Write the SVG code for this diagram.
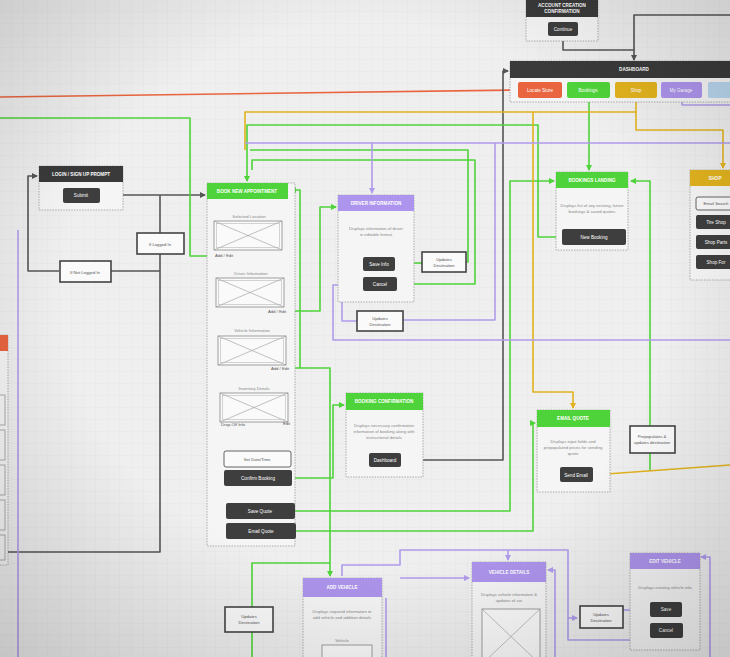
<svg xmlns="http://www.w3.org/2000/svg" width="730" height="657" viewBox="0 0 730 657">
<defs>
<pattern id="grid" width="12" height="12" patternUnits="userSpaceOnUse">
<rect width="12" height="12" fill="#efefef"/>
<path d="M12 0V12H0" fill="none" stroke="#e0e0e0" stroke-width="0.6"/>
</pattern>
<radialGradient id="vig" cx="50%" cy="45%" r="75%">
<stop offset="0.55" stop-color="#000" stop-opacity="0"/>
<stop offset="1" stop-color="#000" stop-opacity="0.18"/>
</radialGradient>
<marker id="aD" markerWidth="6" markerHeight="6" refX="5" refY="3" orient="auto" markerUnits="userSpaceOnUse"><path d="M0,0L6,3L0,6z" fill="#555"/></marker>
<marker id="aG" markerWidth="6" markerHeight="6" refX="5" refY="3" orient="auto" markerUnits="userSpaceOnUse"><path d="M0,0L6,3L0,6z" fill="#4fd33a"/></marker>
<marker id="aY" markerWidth="6" markerHeight="6" refX="5" refY="3" orient="auto" markerUnits="userSpaceOnUse"><path d="M0,0L6,3L0,6z" fill="#e2b31e"/></marker>
<marker id="aP" markerWidth="6" markerHeight="6" refX="5" refY="3" orient="auto" markerUnits="userSpaceOnUse"><path d="M0,0L6,3L0,6z" fill="#b09cec"/></marker>
<g id="wf"><rect x="0" y="0" width="68" height="29" fill="#fafafa" stroke="#888" stroke-width="0.8"/><path d="M0,0L68,29M68,0L0,29" stroke="#999" stroke-width="0.6"/><rect x="2.5" y="2.5" width="63" height="24" fill="none" stroke="#aaa" stroke-width="0.5"/></g>
</defs>
<style>
text{font-family:"Liberation Sans",Arial,sans-serif}
.body{fill:#f5f5f5;stroke:#999;stroke-width:0.8;stroke-dasharray:1.5 1.2}
.hd{fill:#fff;font-size:4.6px;font-weight:bold;text-anchor:middle}
.tx{fill:#888;font-size:4.2px;text-anchor:middle}
.lb{fill:#555;font-size:4.2px}
.btn{fill:#3e3e3e}
.bt{fill:#fff;font-size:4.6px;text-anchor:middle}
.ob{fill:#fafafa;stroke:#555;stroke-width:0.9}
.dbl{fill:#fafafa;stroke:#444;stroke-width:1.6}
.dbi{fill:none;stroke:#fff;stroke-width:0.6}
.ln{fill:none;stroke-width:1.6;stroke-linejoin:round}
.d{stroke:#555}.g{stroke:#4fd33a}.y{stroke:#e2b31e}.p{stroke:#b09cec}.r{stroke:#e9653f}
</style>
<rect width="730" height="657" fill="url(#grid)"/>

<g id="connectors">
<path class="ln r" d="M0,97L518,90"/>
<path class="ln d" d="M563,38V50H634V60" marker-end="url(#aD)"/>
<path class="ln d" d="M730,15H634V50"/>
<path class="ln d" d="M100,195H205" marker-end="url(#aD)"/>
<path class="ln d" d="M160,195V552H0"/>
<path class="ln d" d="M111,271H160"/>
<path class="ln d" d="M59,271H28V176H37" marker-end="url(#aD)"/>
<path class="ln d" d="M400,460H503V71H508" marker-end="url(#aD)"/>

<path class="ln g" d="M0,118H190V256H214"/>
<path class="ln g" d="M562,237H538V125H247V181" marker-end="url(#aG)"/>
<path class="ln g" d="M397,284H475V160H252V170"/>
<path class="ln g" d="M395,263H422"/>
<path class="ln g" d="M458,262H468V150H250"/>
<path class="ln g" d="M284,311H320V207H336" marker-end="url(#aG)"/>
<path class="ln g" d="M287,368H300V190H291" marker-end="url(#aG)"/>
<path class="ln g" d="M300,368H330V576" marker-end="url(#aG)"/>
<path class="ln g" d="M292,478H333V405H344" marker-end="url(#aG)"/>
<path class="ln g" d="M295,511H510V181H554" marker-end="url(#aG)"/>
<path class="ln g" d="M296,531H533V423H535" marker-end="url(#aG)"/>
<path class="ln g" d="M589,98V170" marker-end="url(#aG)"/>
<path class="ln g" d="M650,470V181H631" marker-end="url(#aG)"/>
<path class="ln g" d="M252,657V563H330"/>

<path class="ln y" d="M636,98V130H723V168" marker-end="url(#aY)"/>
<path class="ln y" d="M636,112H245V150"/>
<path class="ln y" d="M533,112V392H573V408" marker-end="url(#aY)"/>
<path class="ln y" d="M593,475L730,465"/>

<path class="ln p" d="M682,98V105H730"/>
<path class="ln p" d="M730,143H372V193" marker-end="url(#aP)"/>
<path class="ln p" d="M372,143H245"/>
<path class="ln p" d="M363,266H342V321H357"/>
<path class="ln p" d="M363,285H333V340H730"/>
<path class="ln p" d="M403,320H495V143"/>
<path class="ln p" d="M18,230V657"/>
<path class="ln p" d="M342,576V565H400V550H568V640H632"/>
<path class="ln p" d="M508,550V560" marker-end="url(#aP)"/>
<path class="ln p" d="M555,657V570H548" marker-end="url(#aP)"/>
<path class="ln p" d="M568,618H577" marker-end="url(#aP)"/>
<path class="ln p" d="M650,610H623"/>
<path class="ln p" d="M650,630H640V640"/>
<path class="ln p" d="M710,657V557H701" marker-end="url(#aP)"/>
<path class="ln p" d="M400,578H469" marker-end="url(#aP)"/>
<path class="ln p" d="M386,598V657"/>
</g>

<g id="account-confirmation">
<rect x="526" y="0" width="72" height="41" class="body"/>
<rect x="526" y="0" width="72" height="17" fill="#3a3a3a"/>
<text x="562" y="7" class="hd">ACCOUNT CREATION</text>
<text x="562" y="13" class="hd">CONFIRMATION</text>
<rect x="548" y="22" width="30" height="14" rx="2" class="btn"/>
<text x="563" y="31" class="bt">Continue</text>
</g>

<g id="dashboard">
<rect x="510" y="61" width="225" height="41" class="body"/>
<rect x="510" y="61" width="225" height="17" fill="#3a3a3a"/>
<text x="634" y="71" class="hd">DASHBOARD</text>
<rect x="518" y="82" width="44" height="16" rx="2" fill="#e9653f"/>
<text x="540" y="92" class="bt">Locate Store</text>
<rect x="567" y="82" width="43" height="16" rx="2" fill="#4fd33a"/>
<text x="588" y="92" class="bt">Bookings</text>
<rect x="615" y="82" width="42" height="16" rx="2" fill="#e2b31e"/>
<text x="636" y="92" class="bt">Shop</text>
<rect x="661" y="82" width="41" height="16" rx="2" fill="#ad94ec"/>
<text x="681" y="92" class="bt">My Garage</text>
<rect x="708" y="82" width="30" height="16" rx="2" fill="#b9d6ee"/>
</g>

<g id="login">
<rect x="39" y="166" width="84" height="44" class="body"/>
<rect x="39" y="166" width="84" height="16" fill="#3a3a3a"/>
<text x="81" y="176" class="hd">LOGIN / SIGN UP PROMPT</text>
<rect x="63" y="188" width="37" height="15" rx="2" class="btn"/>
<text x="81" y="197" class="bt">Submit</text>
</g>

<g id="if-logged-in">
<rect x="137" y="233" width="47" height="21" class="dbl"/>
<text x="160" y="246" class="lb" text-anchor="middle">If Logged In</text>
</g>
<g id="if-not-logged-in">
<rect x="60" y="261" width="51" height="21" class="dbl"/>
<text x="85" y="274" class="lb" text-anchor="middle">If Not Logged In</text>
</g>

<g id="left-node">
<rect x="-20" y="335" width="28" height="230" class="body"/>
<rect x="-20" y="335" width="28" height="16" fill="#e9653f"/>
<rect x="-20" y="395" width="25" height="30" fill="none" stroke="#999" stroke-width="0.8"/>
<rect x="-20" y="430" width="25" height="30" fill="none" stroke="#999" stroke-width="0.8"/>
<rect x="-20" y="465" width="25" height="30" fill="none" stroke="#999" stroke-width="0.8"/>
<rect x="-20" y="500" width="25" height="30" fill="none" stroke="#999" stroke-width="0.8"/>
<rect x="-20" y="535" width="25" height="25" fill="none" stroke="#999" stroke-width="0.8"/>
</g>

<g id="book-new-appointment">
<rect x="207" y="183" width="88" height="363" class="body"/>
<rect x="207" y="183" width="81" height="16" fill="#4fd33a"/>
<text x="247" y="193" class="hd">BOOK NEW APPOINTMENT</text>
<text x="249" y="218" class="tx">Selected Location</text>
<use href="#wf" x="214" y="221"/>
<text x="215" y="257" class="lb">Add / Edit</text>
<text x="251" y="275" class="tx">Driver Information</text>
<use href="#wf" x="216" y="278"/>
<text x="268" y="313" class="lb">Add / Edit</text>
<text x="252" y="332" class="tx">Vehicle Information</text>
<use href="#wf" x="218" y="336"/>
<text x="271" y="370" class="lb">Add / Edit</text>
<text x="254" y="390" class="tx">Inventory Details</text>
<use href="#wf" x="220" y="393"/>
<text x="221" y="426" class="lb">Drop-Off Info</text>
<text x="283" y="425" class="lb">Edit</text>
<rect x="224" y="451" width="67" height="16" rx="2" class="ob"/>
<text x="257" y="461" class="tx" style="fill:#555">Set Date/Time</text>
<rect x="224" y="470" width="68" height="16" rx="2" class="btn"/>
<text x="258" y="480" class="bt">Confirm Booking</text>
<rect x="226" y="503" width="69" height="16" rx="2" class="btn"/>
<text x="260" y="513" class="bt">Save Quote</text>
<rect x="226" y="523" width="70" height="16" rx="2" class="btn"/>
<text x="261" y="533" class="bt">Email Quote</text>
</g>

<g id="driver-information">
<rect x="338" y="195" width="76" height="107" class="body"/>
<rect x="338" y="195" width="76" height="16" fill="#ad94ec"/>
<text x="376" y="205" class="hd">DRIVER INFORMATION</text>
<text x="376" y="230" class="tx">Displays information of driver</text>
<text x="376" y="236" class="tx">in editable format</text>
<rect x="363" y="257" width="32" height="14" rx="2" class="btn"/>
<text x="379" y="266" class="bt">Save Info</text>
<rect x="363" y="277" width="34" height="14" rx="2" class="btn"/>
<text x="380" y="286" class="bt">Cancel</text>
</g>

<g id="updates-destination-1">
<rect x="422" y="252" width="44" height="20" class="dbl"/>
<text x="444" y="261" class="lb" text-anchor="middle">Updates</text>
<text x="444" y="267" class="lb" text-anchor="middle">Destination</text>
</g>
<g id="updates-destination-2">
<rect x="357" y="311" width="46" height="20" class="dbl"/>
<text x="380" y="320" class="lb" text-anchor="middle">Updates</text>
<text x="380" y="326" class="lb" text-anchor="middle">Destination</text>
</g>

<g id="booking-confirmation">
<rect x="346" y="393" width="77" height="84" class="body"/>
<rect x="346" y="393" width="77" height="17" fill="#4fd33a"/>
<text x="384" y="403" class="hd">BOOKING CONFIRMATION</text>
<text x="384" y="427" class="tx">Displays necessary confirmation</text>
<text x="384" y="433" class="tx">information of booking along with</text>
<text x="384" y="439" class="tx">instructional details</text>
<rect x="369" y="453" width="32" height="14" rx="2" class="btn"/>
<text x="385" y="462" class="bt">Dashboard</text>
</g>

<g id="bookings-landing">
<rect x="556" y="172" width="72" height="78" class="body"/>
<rect x="556" y="172" width="72" height="16" fill="#4fd33a"/>
<text x="592" y="182" class="hd">BOOKINGS LANDING</text>
<text x="592" y="207" class="tx">Displays list of any existing, future</text>
<text x="592" y="213" class="tx">bookings &amp; saved quotes</text>
<rect x="562" y="229" width="64" height="16" rx="2" class="btn"/>
<text x="594" y="239" class="bt">New Booking</text>
</g>

<g id="email-quote">
<rect x="537" y="410" width="73" height="82" class="body"/>
<rect x="537" y="410" width="73" height="17" fill="#4fd33a"/>
<text x="573" y="420" class="hd">EMAIL QUOTE</text>
<text x="573" y="443" class="tx">Displays input fields and</text>
<text x="573" y="449" class="tx">prepopulated prices for sending</text>
<text x="573" y="455" class="tx">quote</text>
<rect x="560" y="467" width="33" height="15" rx="2" class="btn"/>
<text x="576" y="477" class="bt">Send Email</text>
</g>

<g id="prepopulates">
<rect x="630" y="426" width="45" height="27" class="dbl"/>
<text x="652" y="438" class="lb" text-anchor="middle">Prepopulates &amp;</text>
<text x="652" y="444" class="lb" text-anchor="middle">updates destination</text>
</g>

<g id="shop">
<rect x="690" y="170" width="50" height="110" class="body"/>
<rect x="690" y="170" width="50" height="16" fill="#e2b31e"/>
<text x="715" y="180" class="hd">SHOP</text>
<rect x="696" y="197" width="40" height="13" rx="2" class="ob"/>
<text x="716" y="205" class="tx" style="fill:#555">Email Search</text>
<rect x="696" y="215" width="40" height="14" rx="2" class="btn"/>
<text x="716" y="224" class="bt">Tire Shop</text>
<rect x="696" y="235" width="40" height="14" rx="2" class="btn"/>
<text x="716" y="244" class="bt">Shop Parts</text>
<rect x="696" y="255" width="40" height="14" rx="2" class="btn"/>
<text x="716" y="264" class="bt">Shop For</text>
</g>

<g id="add-vehicle">
<rect x="303" y="578" width="79" height="90" class="body"/>
<rect x="303" y="578" width="79" height="19" fill="#ad94ec"/>
<text x="342" y="589" class="hd">ADD VEHICLE</text>
<text x="342" y="613" class="tx">Displays required information to</text>
<text x="342" y="619" class="tx">add vehicle and addition details</text>
<text x="342" y="642" class="tx">Vehicle</text>
<rect x="322" y="645" width="50" height="20" fill="#fafafa" stroke="#888" stroke-width="0.8"/>
</g>

<g id="vehicle-details">
<rect x="472" y="562" width="74" height="100" class="body"/>
<rect x="472" y="562" width="74" height="20" fill="#ad94ec"/>
<text x="509" y="574" class="hd">VEHICLE DETAILS</text>
<text x="509" y="596" class="tx">Displays vehicle information &amp;</text>
<text x="509" y="602" class="tx">updates of car</text>
<rect x="482" y="609" width="58" height="55" fill="#fafafa" stroke="#888" stroke-width="0.8"/>
<path d="M482,609L540,664M540,609L482,664" stroke="#999" stroke-width="0.6"/>
</g>

<g id="updates-destination-3">
<rect x="580" y="606" width="43" height="22" class="dbl"/>
<text x="601" y="616" class="lb" text-anchor="middle">Updates</text>
<text x="601" y="622" class="lb" text-anchor="middle">Destination</text>
</g>

<g id="edit-vehicle">
<rect x="630" y="553" width="70" height="97" class="body"/>
<rect x="630" y="553" width="70" height="16" fill="#ad94ec"/>
<text x="665" y="563" class="hd">EDIT VEHICLE</text>
<text x="665" y="589" class="tx">Displays existing vehicle info</text>
<rect x="650" y="602" width="32" height="15" rx="2" class="btn"/>
<text x="666" y="611" class="bt">Save</text>
<rect x="650" y="623" width="33" height="15" rx="2" class="btn"/>
<text x="666" y="632" class="bt">Cancel</text>
</g>

<g id="updates-destination-4">
<rect x="225" y="607" width="48" height="25" class="dbl"/>
<text x="249" y="618" class="lb" text-anchor="middle">Updates</text>
<text x="249" y="624" class="lb" text-anchor="middle">Destination</text>
</g>

<rect width="730" height="657" fill="url(#vig)" pointer-events="none"/>
</svg>
